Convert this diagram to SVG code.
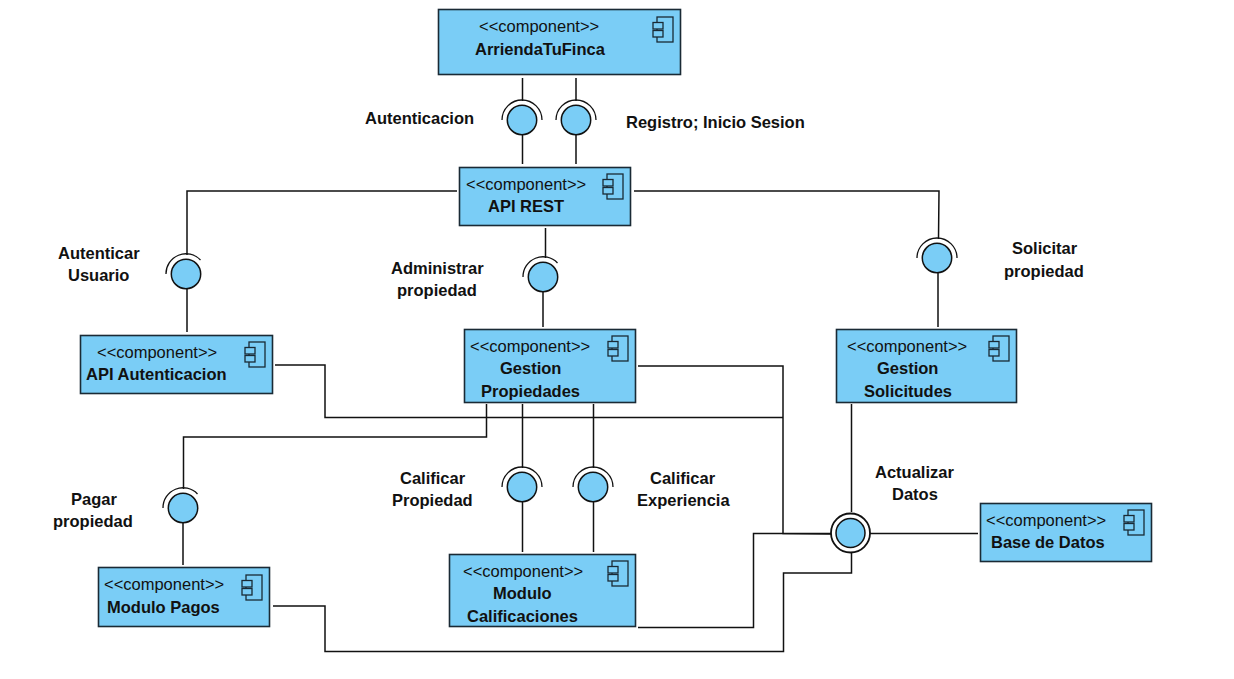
<svg xmlns="http://www.w3.org/2000/svg" xmlns:xlink="http://www.w3.org/1999/xlink" width="1234" height="679" viewBox="0 0 1234 679">
<style>
text{font-family:"Liberation Sans",Arial,sans-serif;fill:#111;font-size:16.5px}
.b{font-weight:bold}
.box{fill:#7acdf6;stroke:#1a2a35;stroke-width:1.6}
.ic{fill:#7acdf6;stroke:#1a2a35;stroke-width:1.3}
.c{fill:none;stroke:#111;stroke-width:1.5}
.ball{fill:#7acdf6;stroke:#111;stroke-width:1.5}
.arc{fill:none;stroke:#111;stroke-width:1.3}
</style>
<defs>
<g id="icon"><rect class="ic" x="4" y="0" width="16" height="25"/><rect class="ic" x="0" y="5.500" width="10" height="6.500"/><rect class="ic" x="0" y="13.500" width="10" height="6.500"/></g>
<g id="lol"><path class="arc" d="M-20 0A20 20 0 0 1 20 0"/><circle class="ball" r="14.700"/></g>
<g id="lol2"><path class="arc" d="M-20 0A20 20 0 0 1 14.500 -14"/><circle class="ball" r="14.700"/></g>
</defs>
<rect width="1234" height="679" fill="#fff"/>
<g id="connectors">
<path class="c" d="M522.500 78V101M522.500 134V164M576 78V101M576 134V164"/>
<path class="c" d="M457 191H187V255M187 288V332"/>
<path class="c" d="M634 191H939L938.500 239M938 272V327"/>
<path class="c" d="M545.500 228V258M543 291V327"/>
<path class="c" d="M275 365H325V417.500H783"/>
<path class="c" d="M638 366H783V533.500L832 534"/>
<path class="c" d="M486.500 404V437H183.500V489M183 523V565"/>
<path class="c" d="M522.500 404V468M522.500 501V552M593.500 404V468M593.500 501V552"/>
<path class="c" d="M851.500 404V512M851.500 551V573H783.500V651.500H325V606H273"/>
<path class="c" d="M638 627.500H753.500V533.500H832"/>
<path class="c" d="M870 533.500H978"/>
</g>
<g id="n-arrienda"><rect class="box" x="438.500" y="9.500" width="242" height="65"/><use xlink:href="#icon" x="653" y="17"/><text x="479" y="32">&lt;&lt;component&gt;&gt;</text><text class="b" x="475" y="55">ArriendaTuFinca</text></g>
<g id="n-apirest"><rect class="box" x="459.500" y="167.500" width="171" height="58"/><use xlink:href="#icon" x="603" y="174"/><text x="466" y="190">&lt;&lt;component&gt;&gt;</text><text class="b" x="488" y="212">API REST</text></g>
<g id="n-apiauth"><rect class="box" x="80.500" y="335.500" width="192" height="58"/><use xlink:href="#icon" x="245" y="342"/><text x="97" y="358">&lt;&lt;component&gt;&gt;</text><text class="b" x="86" y="380">API Autenticacion</text></g>
<g id="n-gprop"><rect class="box" x="464.500" y="329.500" width="171" height="73"/><use xlink:href="#icon" x="608" y="336"/><text x="470" y="352">&lt;&lt;component&gt;&gt;</text><text class="b" x="500" y="374">Gestion</text><text class="b" x="481" y="397">Propiedades</text></g>
<g id="n-gsol"><rect class="box" x="836.500" y="329.500" width="180" height="73"/><use xlink:href="#icon" x="989" y="336"/><text x="847" y="352">&lt;&lt;component&gt;&gt;</text><text class="b" x="877" y="374">Gestion</text><text class="b" x="864" y="397">Solicitudes</text></g>
<g id="n-pagos"><rect class="box" x="98.500" y="567.500" width="171" height="59"/><use xlink:href="#icon" x="242" y="575"/><text x="104" y="590">&lt;&lt;component&gt;&gt;</text><text class="b" x="107" y="613">Modulo Pagos</text></g>
<g id="n-calif"><rect class="box" x="449.500" y="554.500" width="186" height="72"/><use xlink:href="#icon" x="608" y="561"/><text x="463" y="577">&lt;&lt;component&gt;&gt;</text><text class="b" x="493" y="599">Modulo</text><text class="b" x="467" y="622">Calificaciones</text></g>
<g id="n-bd"><rect class="box" x="980.500" y="503.500" width="171" height="58"/><use xlink:href="#icon" x="1124" y="510"/><text x="986" y="526">&lt;&lt;component&gt;&gt;</text><text class="b" x="991" y="548">Base de Datos</text></g>
<g id="i-aut"><use xlink:href="#lol" x="522" y="120"/><text class="b" x="365" y="124">Autenticacion</text></g>
<g id="i-reg"><use xlink:href="#lol" x="576" y="120"/><text class="b" x="626" y="128">Registro; Inicio Sesion</text></g>
<g id="i-autu"><use xlink:href="#lol2" x="186" y="274"/><text class="b" x="58" y="259">Autenticar</text><text class="b" x="68" y="281">Usuario</text></g>
<g id="i-adm"><use xlink:href="#lol2" x="543" y="277"/><text class="b" x="391" y="274">Administrar</text><text class="b" x="397" y="296">propiedad</text></g>
<g id="i-sol"><use xlink:href="#lol" x="937" y="258"/><text class="b" x="1012" y="254">Solicitar</text><text class="b" x="1004" y="277">propiedad</text></g>
<g id="i-pag"><use xlink:href="#lol2" x="183" y="508"/><text class="b" x="71" y="505">Pagar</text><text class="b" x="53" y="527">propiedad</text></g>
<g id="i-cp"><use xlink:href="#lol" x="522" y="487"/><text class="b" x="400" y="484">Calificar</text><text class="b" x="392" y="506">Propiedad</text></g>
<g id="i-ce"><use xlink:href="#lol" x="593" y="487"/><text class="b" x="650" y="484">Calificar</text><text class="b" x="637" y="506">Experiencia</text></g>
<g id="i-act"><circle cx="850.500" cy="533" r="19.500" fill="#fff" stroke="#111" stroke-width="1.8"/><circle cx="850.500" cy="533" r="14.500" class="ball"/><text class="b" x="875" y="478">Actualizar</text><text class="b" x="892" y="500">Datos</text></g>
</svg>
